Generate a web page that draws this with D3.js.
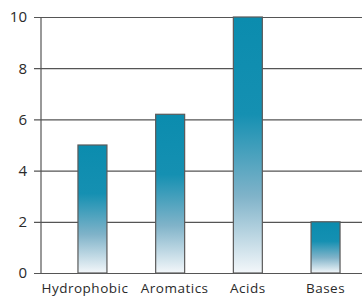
<html>
<head>
<title> Amino acid groups </title>
<script type="text/javascript" src="https://cdn.jsdelivr.net/npm/d3@7"></script>
<style>
  * { margin: 0; padding: 0; }
  body { background: #fff; }
  #chart { width: 362px; height: 299px; }
  text { font-family: "Open Sans", sans-serif; fill: #2a2a2a; }
</style>
</head>
<body>
<div id="chart"></div>
<script type="text/javascript">
var categories = ['Hydrophobic', 'Aromatics', 'Acids', 'Bases'];
var values = [5, 6.2, 10, 2];
var yTicks = [0, 2, 4, 6, 8, 10];

var width = 362, height = 299;
var x0 = 41, yTop = 17, yBot = 273;

var svg = d3.select('#chart').append('svg')
    .attr('width', width)
    .attr('height', height);

// gradient for the bars, teal fading to white
var grad = svg.append('defs').append('linearGradient')
    .attr('id', 'barfill')
    .attr('x1', 0).attr('y1', 0).attr('x2', 0).attr('y2', 1);
grad.append('stop').attr('offset', '0%').attr('stop-color', '#0b8cae');
grad.append('stop').attr('offset', '38%').attr('stop-color', '#1590b2');
grad.append('stop').attr('offset', '70%').attr('stop-color', '#80b3c9');
grad.append('stop').attr('offset', '100%').attr('stop-color', '#f3f7fa');

var y = d3.scaleLinear().domain([0, 10]).range([yBot, yTop]);
var x = d3.scaleBand().domain(categories)
    .range([53.6, 364.4])
    .paddingInner(0.627)
    .paddingOuter(0.3135);

// grid lines + tick labels
var yAxis = d3.axisLeft(y).tickValues(yTicks)
    .tickSize(-(width - x0)).tickPadding(14).tickSizeOuter(0);
var gy = svg.append('g')
    .attr('transform', 'translate(' + x0 + ',0)')
    .call(yAxis);
gy.select('.domain').remove();
gy.selectAll('.tick line')
    .attr('x1', -7)
    .attr('stroke', '#555').attr('stroke-width', 1.2);
gy.selectAll('.tick text')
    .attr('font-size', 15).attr('fill', '#2a2a2a')
    .style('font-family', '"Open Sans", sans-serif');

// bars
svg.selectAll('rect.bar')
    .data(values)
  .enter().append('rect')
    .attr('class', 'bar')
    .attr('x', function(d, i) { return x(categories[i]); })
    .attr('y', function(d) { return y(d); })
    .attr('width', x.bandwidth())
    .attr('height', function(d) { return yBot - y(d); })
    .attr('fill', 'url(#barfill)')
    .attr('stroke', '#5a5a5a')
    .attr('stroke-width', 1.2);

// vertical axis line
svg.append('line')
    .attr('x1', x0).attr('x2', x0)
    .attr('y1', yTop).attr('y2', yBot)
    .attr('stroke', '#555').attr('stroke-width', 1.2);

// category labels (first two nudged apart like the original)
var labelShift = {Hydrophobic: -7.5, Aromatics: 4.5};
svg.selectAll('text.cat')
    .data(categories)
  .enter().append('text')
    .attr('class', 'cat')
    .attr('x', function(d) { return x(d) + x.bandwidth() / 2 + (labelShift[d] || 0); })
    .attr('y', 293)
    .attr('text-anchor', 'middle')
    .attr('font-size', 13.5)
    .attr('letter-spacing', 0.5)
    .text(function(d) { return d; });
</script>
</body>
</html>
